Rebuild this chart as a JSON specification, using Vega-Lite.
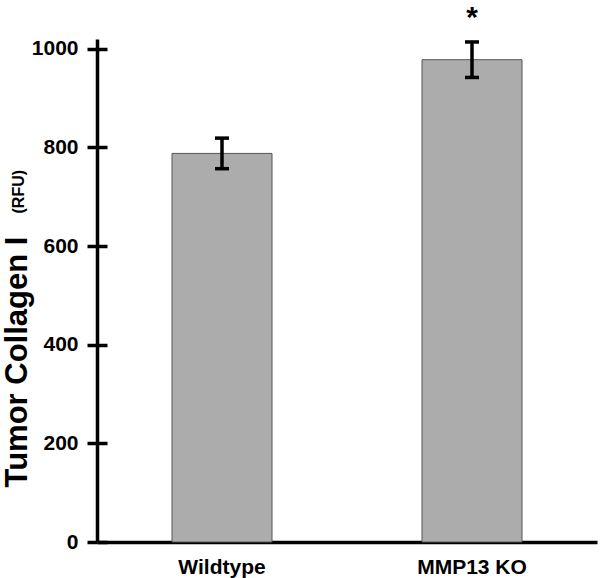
{
  "$schema": "https://vega.github.io/schema/vega-lite/v6.json",
  "width": 500,
  "height": 503,
  "autosize": "none",
  "padding": {"left": 97, "top": 39, "right": 3, "bottom": 36},
  "config": {"view": {"stroke": null}, "font": "Liberation Sans"},
  "data": {
    "values": [
      {"group": "Wildtype", "mean": 788, "lower": 757, "upper": 819, "sig": ""},
      {"group": "MMP13 KO", "mean": 978, "lower": 942, "upper": 1014, "sig": "*"}
    ]
  },
  "encoding": {
    "x": {
      "field": "group",
      "type": "nominal",
      "sort": null,
      "scale": {"paddingInner": 0.6, "paddingOuter": 0.3},
      "axis": {
        "title": null,
        "labelAngle": 0,
        "labelFontSize": 21,
        "labelFontWeight": "bold",
        "labelColor": "black",
        "ticks": false,
        "tickSize": 0,
        "labelPadding": 14,
        "domainWidth": 3.5,
        "domainColor": "black"
      }
    }
  },
  "layer": [
    {
      "mark": {"type": "bar", "fill": "#acacac", "stroke": "#555555", "strokeWidth": 1},
      "encoding": {
        "y": {
          "field": "mean",
          "type": "quantitative",
          "scale": {"domain": [0, 1020], "nice": false},
          "axis": {
            "orient": "left",
            "title": "Tumor Collagen I",
            "titleFontSize": 31,
            "titleFontWeight": "bold",
            "titleColor": "black",
            "titleAngle": -90,
            "titleAlign": "left",
            "titleBaseline": "alphabetic",
            "titleX": -71,
            "titleY": 448,
            "values": [0, 200, 400, 600, 800, 1000],
            "format": "d",
            "tickSize": 10,
            "tickWidth": 3.5,
            "tickColor": "black",
            "domainWidth": 3.5,
            "domainColor": "black",
            "labelFontSize": 21,
            "labelFontWeight": "bold",
            "labelColor": "black",
            "labelPadding": 9,
            "grid": false
          }
        }
      }
    },
    {
      "mark": {"type": "rule", "strokeWidth": 3.5, "color": "black"},
      "encoding": {
        "y": {
          "field": "lower",
          "type": "quantitative",
          "axis": {
            "orient": "right",
            "offset": -500,
            "title": "(RFU)",
            "titleFontSize": 16,
            "titleFontWeight": "bold",
            "titleColor": "black",
            "titleAngle": -90,
            "titleAlign": "left",
            "titleBaseline": "alphabetic",
            "titleX": -74,
            "titleY": 174,
            "values": [0, 200, 400, 600, 800, 1000],
            "tickSize": 10,
            "tickWidth": 3.5,
            "tickColor": "black",
            "domain": false,
            "labels": false,
            "grid": false
          }
        },
        "y2": {"field": "upper"}
      }
    },
    {
      "mark": {"type": "tick", "thickness": 3.5, "size": 14, "color": "black", "opacity": 1},
      "encoding": {"y": {"field": "lower", "type": "quantitative", "axis": null}}
    },
    {
      "mark": {"type": "tick", "thickness": 3.5, "size": 14, "color": "black", "opacity": 1},
      "encoding": {"y": {"field": "upper", "type": "quantitative", "axis": null}}
    },
    {
      "mark": {"type": "text", "fontSize": 30, "fontWeight": "bold", "color": "black", "align": "center", "baseline": "alphabetic", "dy": -15},
      "encoding": {
        "y": {"field": "upper", "type": "quantitative", "axis": null},
        "text": {"field": "sig"}
      }
    }
  ],
  "resolve": {"axis": {"y": "independent"}}
}
